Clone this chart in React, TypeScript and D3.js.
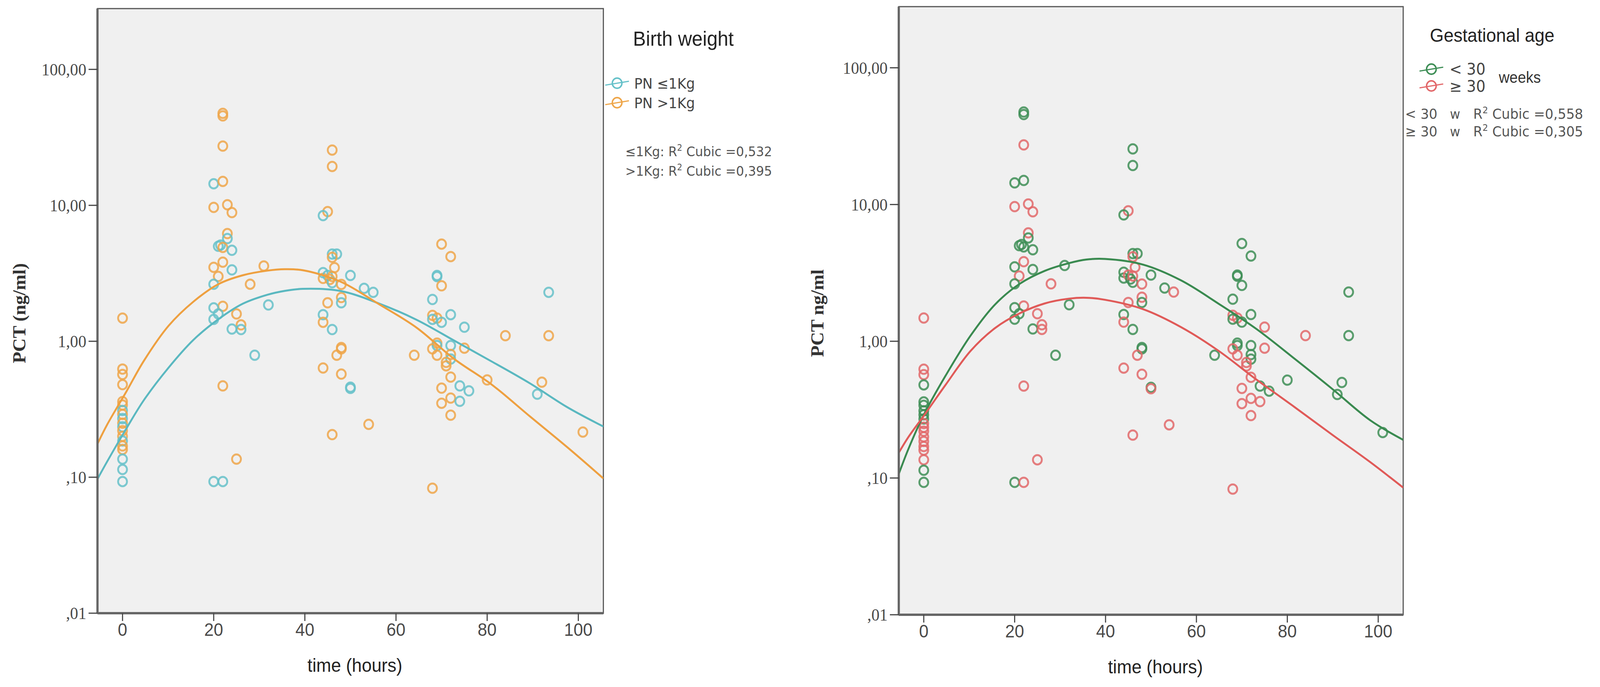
import React, { useRef, useEffect } from 'react';
import * as d3 from 'd3';

// time (hours), PCT (ng/ml), birth-weight group, gestational-age group
const TIME = [
  0, 0, 0, 0, 0, 0, 0, 0, 0, 0, 0, 0, 0, 0, 0, 0, 0, 0, 0,
  22, 22, 22, 20, 22, 20, 23, 24, 23, 23, 21, 21.5, 22, 24, 22, 20, 21, 24, 20, 31,
  28, 22, 20, 32, 21, 25, 20, 26, 24, 26, 29, 22, 25, 20, 22,
  46, 46, 45, 44, 46, 47, 46, 46.5, 44, 44, 45, 45.5, 46, 46, 50, 48, 53, 55, 48, 48,
  45, 44, 44, 46, 48, 48, 47, 44, 48, 50, 50, 54, 46,
  64, 70, 72, 69, 69, 70, 68, 72, 68, 69, 68, 70, 75, 84, 93.5, 93.5, 69, 69, 68, 72,
  75, 69, 72, 72, 71, 71, 72, 80, 74, 76, 70, 91, 92, 72, 74, 70, 72, 101, 68,
];
const PCT = [
  1.48, 0.625, 0.57, 0.48, 0.36, 0.34, 0.31, 0.29, 0.27, 0.25, 0.235, 0.22, 0.2, 0.185, 0.17, 0.16, 0.136, 0.114, 0.093,
  47.5, 45.5, 27.3, 14.4, 15, 9.66, 10.1, 8.85, 6.2, 5.7, 5.0, 5.1, 4.9, 4.67, 3.82, 3.5, 3.0, 3.35, 2.63, 3.58,
  2.63, 1.81, 1.76, 1.85, 1.59, 1.59, 1.45, 1.32, 1.23, 1.22, 0.79, 0.47, 0.136, 0.093, 0.093,
  25.5, 19.3, 9.0, 8.4, 4.38, 4.38, 4.15, 3.48, 3.2, 2.9, 3.05, 2.85, 2.7, 3.0, 3.05, 2.62, 2.45, 2.29, 2.1, 1.92,
  1.92, 1.57, 1.38, 1.22, 0.9, 0.88, 0.79, 0.636, 0.574, 0.46, 0.45, 0.245, 0.206,
  0.79, 5.19, 4.2, 2.99, 3.05, 2.56, 2.03, 1.57, 1.55, 1.48, 1.45, 1.38, 1.27, 1.1, 1.1, 2.29, 0.97, 0.93, 0.88, 0.93,
  0.89, 0.79, 0.8, 0.74, 0.7, 0.66, 0.545, 0.52, 0.47, 0.432, 0.452, 0.408, 0.5, 0.382, 0.362, 0.35, 0.286, 0.215, 0.083,
];
const BIRTH_WEIGHT = [
  'H', 'H', 'H', 'H', 'H', 'H', 'L', 'H', 'L', 'H', 'L', 'H', 'H', 'L', 'H', 'H', 'L', 'L', 'L',
  'H', 'H', 'H', 'L', 'H', 'H', 'H', 'H', 'H', 'L', 'L', 'L', 'H', 'L', 'H', 'H', 'H', 'L', 'L', 'H',
  'H', 'H', 'L', 'L', 'L', 'H', 'L', 'H', 'L', 'L', 'L', 'H', 'H', 'L', 'L',
  'H', 'H', 'H', 'L', 'L', 'L', 'H', 'H', 'L', 'H', 'L', 'H', 'L', 'H', 'L', 'H', 'L', 'L', 'H', 'L',
  'H', 'L', 'H', 'L', 'H', 'H', 'H', 'H', 'H', 'L', 'L', 'H', 'H',
  'H', 'H', 'H', 'L', 'L', 'H', 'L', 'L', 'H', 'H', 'L', 'L', 'L', 'H', 'H', 'L', 'H', 'L', 'H', 'L',
  'H', 'H', 'H', 'L', 'H', 'H', 'H', 'H', 'L', 'L', 'H', 'L', 'H', 'H', 'L', 'H', 'H', 'H', 'H',
];
const GEST_AGE = [
  'B', 'B', 'B', 'A', 'A', 'A', 'A', 'A', 'A', 'B', 'B', 'B', 'B', 'B', 'B', 'B', 'B', 'A', 'A',
  'A', 'A', 'B', 'A', 'A', 'B', 'B', 'B', 'B', 'A', 'A', 'A', 'A', 'A', 'B', 'A', 'B', 'A', 'A', 'A',
  'B', 'B', 'A', 'A', 'A', 'B', 'A', 'B', 'A', 'B', 'A', 'B', 'B', 'A', 'B',
  'A', 'A', 'B', 'A', 'A', 'A', 'B', 'B', 'A', 'A', 'B', 'A', 'A', 'B', 'A', 'B', 'A', 'B', 'B', 'A',
  'B', 'A', 'B', 'A', 'A', 'A', 'B', 'B', 'B', 'A', 'B', 'B', 'B',
  'A', 'A', 'A', 'A', 'A', 'A', 'A', 'A', 'B', 'B', 'A', 'A', 'B', 'B', 'A', 'A', 'A', 'A', 'B', 'A',
  'B', 'B', 'A', 'A', 'B', 'B', 'B', 'A', 'A', 'A', 'B', 'A', 'A', 'B', 'B', 'B', 'B', 'A', 'B',
];

// cubic fit curves
const BW_FIT_T = [-5.5, -3.4, 0.9, 4.7, 10.1, 15.5, 21, 26.4, 31.8, 35.6, 39.6, 47.9, 56.2, 64.5, 72.8, 81, 89.4, 97.6, 105.5];
const BW_LOW_FIT = [0.097, 0.13, 0.23, 0.37, 0.64, 1.02, 1.45, 1.89, 2.2, 2.35, 2.43, 2.34, 1.9, 1.44, 1.01, 0.71, 0.49, 0.327, 0.236];
const BW_HIGH_FIT = [0.176, 0.243, 0.43, 0.72, 1.3, 1.95, 2.63, 3.06, 3.31, 3.39, 3.33, 2.74, 1.88, 1.26, 0.74, 0.48, 0.28, 0.166, 0.098];
const GA_FIT_T = [-5.5, -3.35, 0, 4.8, 10.3, 15.7, 21.1, 26.6, 32, 35.8, 39.9, 48.2, 56.6, 64.9, 73.2, 81.6, 89.9, 98.2, 105.5];
const GA_LOW_FIT = [0.107, 0.164, 0.29, 0.56, 1.1, 1.86, 2.63, 3.27, 3.73, 3.96, 4.0, 3.64, 2.79, 1.88, 1.23, 0.745, 0.448, 0.265, 0.19];
const GA_HIGH_FIT = [0.153, 0.2, 0.285, 0.48, 0.85, 1.25, 1.6, 1.89, 2.05, 2.08, 2.01, 1.72, 1.27, 0.85, 0.525, 0.33, 0.207, 0.131, 0.085];

const X_TICKS = [0, 20, 40, 60, 80, 100];
const Y_TICKS = [100, 10, 1, 0.1, 0.01];
const Y_TICK_LABELS = ['100,00', '10,00', '1,00', ',10', ',01'];

const W = 4317;
const H = 1759;

const COLORS: Record<string, string> = {
  L: '#66c1c9',
  H: '#eea64a',
  A: '#3e8e56',
  B: '#e2686a',
};
const FIT_COLORS: Record<string, string> = {
  L: '#5ab8c0',
  H: '#eea040',
  A: '#3a8a50',
  B: '#e05a58',
};

interface Box { x0: number; x1: number; y0: number; y1: number }

type Sel = d3.Selection<SVGSVGElement, unknown, null, undefined>;

function drawPanel(svg: Sel, id: string, box: Box, yTitle: string, yTitleX: number,
  groups: string[], fits: { t: number[]; v: number[]; key: string }[]) {
  const x = d3.scaleLinear().domain([-5.5, 105.5]).range([box.x0, box.x1]);
  const y = d3.scaleLog().domain([0.01, 280]).range([box.y1, box.y0]);

  const g = svg.append('g');

  g.append('rect')
    .attr('x', box.x0).attr('y', box.y0)
    .attr('width', box.x1 - box.x0).attr('height', box.y1 - box.y0)
    .attr('fill', '#f0f0f0')
    .attr('stroke', '#555').attr('stroke-width', 3);

  g.append('clipPath').attr('id', id)
    .append('rect')
    .attr('x', box.x0).attr('y', box.y0)
    .attr('width', box.x1 - box.x0).attr('height', box.y1 - box.y0);

  // points
  const pts = g.append('g').attr('clip-path', `url(#${id})`);
  pts.selectAll('circle')
    .data(TIME.map((_, i) => i))
    .join('circle')
    .attr('cx', i => x(TIME[i]))
    .attr('cy', i => y(PCT[i]))
    .attr('r', 12)
    .attr('fill', 'none')
    .attr('stroke', i => COLORS[groups[i]])
    .attr('stroke-width', 5)
    .attr('stroke-opacity', 0.85);

  // fit lines
  fits.forEach(f => {
    const gen = d3.line<number>()
      .x(i => x(f.t[i]))
      .y(i => y(f.v[i]))
      .curve(d3.curveCatmullRom.alpha(0.5));
    pts.append('path')
      .attr('d', gen(f.t.map((_, i) => i)) || '')
      .attr('fill', 'none')
      .attr('stroke', FIT_COLORS[f.key])
      .attr('stroke-width', 5);
  });

  // axis lines
  g.append('line')
    .attr('x1', box.x0).attr('x2', box.x0).attr('y1', box.y0).attr('y2', box.y1)
    .attr('stroke', '#666').attr('stroke-width', 6);
  g.append('line')
    .attr('x1', box.x0).attr('x2', box.x1).attr('y1', box.y1).attr('y2', box.y1)
    .attr('stroke', '#666').attr('stroke-width', 6);

  // y ticks
  Y_TICKS.forEach((v, i) => {
    g.append('line')
      .attr('x1', box.x0 - 24).attr('x2', box.x0)
      .attr('y1', y(v)).attr('y2', y(v))
      .attr('stroke', '#444').attr('stroke-width', 3);
    g.append('text')
      .attr('x', box.x0 - 30).attr('y', y(v))
      .attr('dy', '0.35em')
      .attr('text-anchor', 'end')
      .attr('font-family', '"Liberation Serif", serif')
      .attr('font-size', 44)
      .attr('fill', '#4a4a4a')
      .text(Y_TICK_LABELS[i]);
  });

  // x ticks
  X_TICKS.forEach(t => {
    g.append('line')
      .attr('x1', x(t)).attr('x2', x(t))
      .attr('y1', box.y1).attr('y2', box.y1 + 20)
      .attr('stroke', '#444').attr('stroke-width', 3);
    g.append('text')
      .attr('x', x(t)).attr('y', box.y1 + 58)
      .attr('text-anchor', 'middle')
      .attr('font-family', '"Liberation Sans", sans-serif')
      .attr('font-size', 46)
      .attr('fill', '#4a4a4a')
      .text(String(t));
  });

  // axis titles
  g.append('text')
    .attr('x', (box.x0 + box.x1) / 2 + 12).attr('y', box.y1 + 150)
    .attr('text-anchor', 'middle')
    .attr('font-family', '"Liberation Sans", sans-serif')
    .attr('font-size', 48)
    .attr('fill', '#222')
    .text('time (hours)');

  g.append('text')
    .attr('transform', `translate(${yTitleX},${y(1) - 72}) rotate(-90)`)
    .attr('dy', '0.35em')
    .attr('text-anchor', 'middle')
    .attr('font-family', '"Liberation Serif", serif')
    .attr('font-weight', 'bold')
    .attr('font-size', 48)
    .attr('fill', '#333')
    .text(yTitle);
}

function legendMarker(svg: Sel, cx: number, cy: number, color: string) {
  svg.append('line')
    .attr('x1', cx - 32).attr('x2', cx + 32)
    .attr('y1', cy + 5).attr('y2', cy - 5)
    .attr('stroke', color).attr('stroke-width', 3);
  svg.append('circle')
    .attr('cx', cx).attr('cy', cy).attr('r', 13)
    .attr('fill', 'none').attr('stroke', color).attr('stroke-width', 4);
}

function r2Line(svg: Sel, xPos: number, yPos: number, prefix: string, value: string, fs: number) {
  const t = svg.append('text')
    .attr('x', xPos).attr('y', yPos)
    .attr('font-family', '"DejaVu Sans", sans-serif')
    .attr('font-size', fs)
    .attr('fill', '#555');
  t.append('tspan').text(prefix + 'R');
  t.append('tspan').attr('dy', -14).attr('font-size', fs * 0.65).text('2');
  t.append('tspan').attr('dy', 14).text(` Cubic =${value}`);
}

export default function App() {
  const ref = useRef<SVGSVGElement | null>(null);

  useEffect(() => {
    document.body.style.margin = '0';
    document.documentElement.style.overflow = 'hidden';

    const svg = d3.select(ref.current) as Sel;
    svg.selectAll('*').remove();

    svg.append('rect').attr('width', W).attr('height', H).attr('fill', '#fff');

    // left: birth weight
    drawPanel(svg, 'clipL', { x0: 263, x1: 1628, y0: 22, y1: 1570 }, 'PCT (ng/ml)', 52,
      BIRTH_WEIGHT, [
        { t: BW_FIT_T, v: BW_LOW_FIT, key: 'L' },
        { t: BW_FIT_T, v: BW_HIGH_FIT, key: 'H' },
      ]);

    // right: gestational age
    drawPanel(svg, 'clipR', { x0: 2425, x1: 3786, y0: 17, y1: 1574 }, 'PCT ng/ml', 2205,
      GEST_AGE, [
        { t: GA_FIT_T, v: GA_LOW_FIT, key: 'A' },
        { t: GA_FIT_T, v: GA_HIGH_FIT, key: 'B' },
      ]);

    // left legend
    svg.append('text')
      .attr('x', 1708).attr('y', 117)
      .attr('font-family', '"Liberation Sans", sans-serif')
      .attr('font-size', 52).attr('fill', '#222')
      .text('Birth weight');
    legendMarker(svg, 1665, 213, COLORS.L);
    legendMarker(svg, 1665, 263, COLORS.H);
    [['PN ≤1Kg', 227], ['PN >1Kg', 277]].forEach(([label, yy]) => {
      svg.append('text')
        .attr('x', 1711).attr('y', yy as number)
        .attr('font-family', '"DejaVu Sans", sans-serif')
        .attr('font-size', 37).attr('fill', '#444')
        .text(label as string);
    });
    r2Line(svg, 1687, 400, '≤1Kg: ', '0,532', 34);
    r2Line(svg, 1687, 450, '>1Kg: ', '0,395', 34);

    // right legend
    svg.append('text')
      .attr('x', 3858).attr('y', 107)
      .attr('font-family', '"Liberation Sans", sans-serif')
      .attr('font-size', 48).attr('fill', '#222')
      .text('Gestational age');
    legendMarker(svg, 3862, 177, COLORS.A);
    legendMarker(svg, 3862, 220, COLORS.B);
    [['< 30', 191], ['≥ 30', 235]].forEach(([label, yy]) => {
      svg.append('text')
        .attr('x', 3911).attr('y', yy as number)
        .attr('font-family', '"DejaVu Sans", sans-serif')
        .attr('font-size', 40).attr('fill', '#444')
        .text(label as string);
    });
    svg.append('text')
      .attr('x', 4044).attr('y', 212)
      .attr('font-family', '"Liberation Sans", sans-serif')
      .attr('font-size', 40).attr('fill', '#333')
      .text('weeks');
    [['< 30', '0,558', 304], ['≥ 30', '0,305', 349]].forEach(([grp, val, yy]) => {
      svg.append('text')
        .attr('x', 3791).attr('y', yy as number)
        .attr('font-family', '"DejaVu Sans", sans-serif')
        .attr('font-size', 36).attr('fill', '#555')
        .text(grp as string);
      svg.append('text')
        .attr('x', 3912).attr('y', yy as number)
        .attr('font-family', '"DejaVu Sans", sans-serif')
        .attr('font-size', 34).attr('fill', '#555')
        .text('w');
      r2Line(svg, 3975, yy as number, '', val as string, 36);
    });
  }, []);

  return (
    <svg
      ref={ref}
      viewBox={`0 0 ${W} ${H}`}
      preserveAspectRatio="none"
      style={{ position: 'absolute', left: 0, top: 0, width: '100vw', height: '100vh', display: 'block' }}
    />
  );
}
